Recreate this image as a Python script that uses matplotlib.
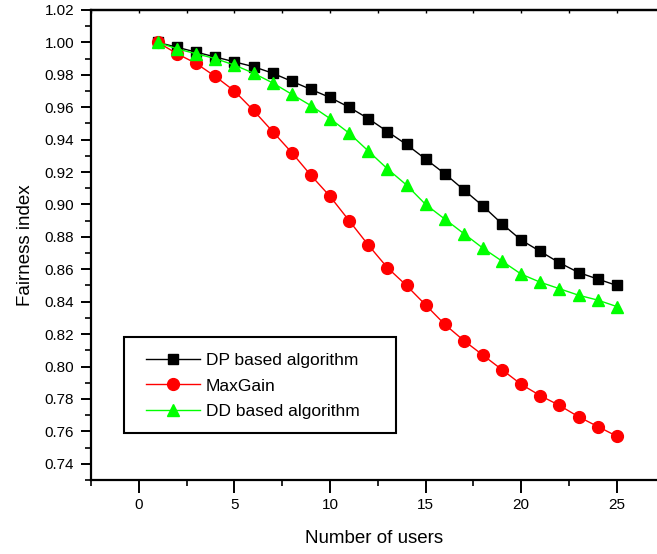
import numpy as np
import matplotlib.pyplot as plt
from matplotlib.ticker import MultipleLocator
from matplotlib.patches import Rectangle

plt.rcParams['font.family'] = ['Liberation Sans', 'DejaVu Sans']

## -------- data -------- ##
users = list(range(1, 26))

dp_fair = [1.000, 0.997, 0.994, 0.991, 0.988, 0.985, 0.981, 0.976, 0.971, 0.966,
           0.960, 0.953, 0.945, 0.937, 0.928, 0.919, 0.909, 0.899, 0.888, 0.878,
           0.871, 0.864, 0.858, 0.854, 0.850]

maxgain_fair = [1.000, 0.993, 0.987, 0.979, 0.970, 0.958, 0.945, 0.932, 0.918, 0.905,
                0.890, 0.875, 0.861, 0.850, 0.838, 0.826, 0.816, 0.807, 0.798, 0.789,
                0.782, 0.776, 0.769, 0.763, 0.757]

dd_fair = [1.000, 0.996, 0.993, 0.990, 0.986, 0.981, 0.975, 0.968, 0.961, 0.953,
           0.944, 0.933, 0.922, 0.912, 0.900, 0.891, 0.882, 0.873, 0.865, 0.857,
           0.852, 0.848, 0.844, 0.841, 0.837]

labels = ["DP based algorithm", "MaxGain", "DD based algorithm"]

## -------- plotting -------- ##
fig = plt.figure(figsize=(6.57, 5.54), dpi=100)
ax = fig.add_axes([0.1385, 0.1336, 0.8615, 0.8484])

ax.plot(users, dp_fair, color="black", lw=1, marker="s", ms=7, label=labels[0])
ax.plot(users, maxgain_fair, color="red", lw=1, marker="o", ms=8.5, label=labels[1])
ax.plot(users, dd_fair, color="#00ff00", lw=1, marker="^", ms=9, label=labels[2])

ax.set_xlim(-2.5, 27.1)
ax.set_ylim(0.73, 1.02)
ax.xaxis.set_major_locator(MultipleLocator(5))
ax.xaxis.set_minor_locator(MultipleLocator(2.5))
ax.yaxis.set_major_locator(MultipleLocator(0.02))
ax.yaxis.set_minor_locator(MultipleLocator(0.01))
ax.yaxis.set_major_formatter(plt.FormatStrFormatter("%.2f"))

ax.spines["right"].set_visible(False)
for s in ["left", "bottom", "top"]:
    ax.spines[s].set_linewidth(1.6)

ax.tick_params(which="major", direction="out", length=7, width=1.4, labelsize=11, pad=5)
ax.tick_params(which="minor", direction="out", length=4, width=1.2)
ax.tick_params(axis="x", which="major", length=9, pad=4)
ax.tick_params(axis="x", which="minor", length=4)

# small inward ticks along the top edge
top = ax.secondary_xaxis("top")
top.xaxis.set_major_locator(MultipleLocator(5))
top.xaxis.set_minor_locator(MultipleLocator(2.5))
top.tick_params(which="both", direction="in", length=2, width=1.0, labeltop=False)
top.spines["top"].set_linewidth(1.6)

ax.set_xlabel("Number of users", fontsize=13.5, labelpad=13)
ax.set_ylabel("Fairness index", fontsize=13.5, labelpad=8)

# legend box drawn separately to get Origin-like padding
ax.add_patch(Rectangle((0.0583, 0.1), 0.4806, 0.2043, transform=ax.transAxes,
                       fill=False, edgecolor="black", lw=1.5, zorder=5))
ax.legend(loc="center left", bbox_to_anchor=(0.0972, 0.2), borderaxespad=0,
          borderpad=0, fontsize=12.5, handlelength=3.1, handletextpad=0.35,
          labelspacing=0.6, frameon=False)

plt.savefig("out.png", dpi=100)
